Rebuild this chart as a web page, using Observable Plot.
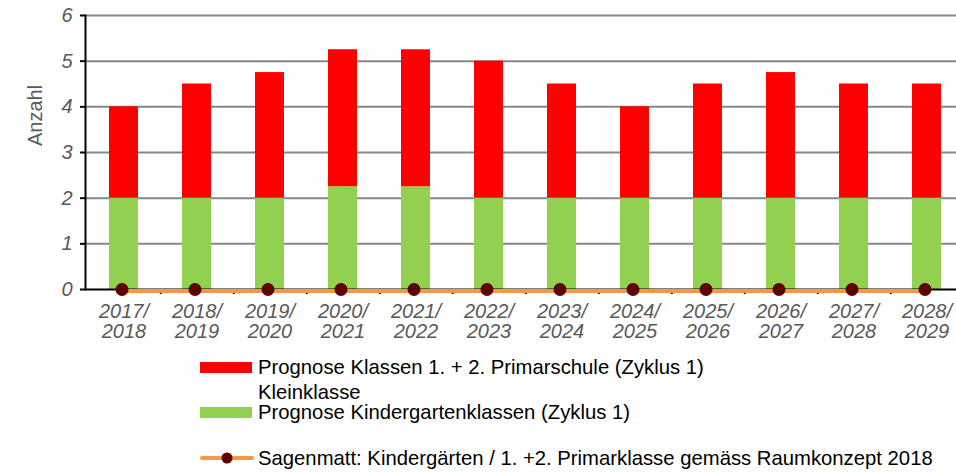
<!DOCTYPE html>
<html>
<head>
<meta charset="utf-8">
<script src="https://cdn.jsdelivr.net/npm/d3@7"></script>
<script src="https://cdn.jsdelivr.net/npm/@observablehq/plot@0.6"></script>
<style>
  html, body { margin: 0; padding: 0; background: #fff; overflow: hidden; }
  #wrap { position: relative; width: 956px; height: 472px; overflow: hidden; font-family: "Liberation Sans", Arial, sans-serif; }
  #chart svg { overflow: hidden; }
  .leg { position: absolute; left: 200px; font-size: 20.3px; color: #000; white-space: nowrap; }
  .leg .sw { position: absolute; left: 0; width: 52px; height: 11px; }
  .leg .tx { position: absolute; left: 58px; line-height: 25px; }
</style>
</head>
<body>
<div id="wrap">
  <div id="chart"></div>
  <div id="legend"></div>
</div>
<script>
const years = ["2017/2018","2018/2019","2019/2020","2020/2021","2021/2022","2022/2023","2023/2024","2024/2025","2025/2026","2026/2027","2027/2028","2028/2029"];
const kinder = [2, 2, 2, 2.25, 2.25, 2, 2, 2, 2, 2, 2, 2];
const primar = [2, 2.5, 2.75, 3, 3, 3, 2.5, 2, 2.5, 2.75, 2.5, 2.5];
const sagenmatt = [0, 0, 0, 0, 0, 0, 0, 0, 0, 0, 0, 0];
const yTicks = [0, 1, 2, 3, 4, 5, 6];
const yTitle = "Anzahl";
const legendItems = [
  "Prognose Klassen 1. + 2. Primarschule (Zyklus 1)\nKleinklasse",
  "Prognose Kindergartenklassen (Zyklus 1)",
  "Sagenmatt: Kindergärten / 1. +2. Primarklasse gemäss Raumkonzept 2018"
];

const RED = "#FF0000", GREEN = "#92D050", ORANGE = "#F79646", DOT = "#5C0000", GRAY = "#595959";

const rows = years.map((y, i) => ({year: y, k: kinder[i], p: primar[i], s: sagenmatt[i]}));
const step = (967 - 84) / 12;

const chart = Plot.plot({
  width: 956, height: 350,
  marginLeft: 85, marginRight: 0, marginTop: 15, marginBottom: 61,
  x: {domain: years, range: [84, 967], paddingInner: 0.6, paddingOuter: 0.3, axis: null},
  y: {domain: [0, 6], axis: null},
  style: {fontFamily: "'Liberation Sans', Arial, sans-serif", overflow: "hidden"},
  marks: [
    Plot.gridY(yTicks.filter(v => v > 0), {stroke: "#878787", strokeWidth: 2, strokeOpacity: 1}),
    Plot.barY(rows, {x: "year", y1: 0, y2: "k", fill: GREEN, inset: 0}),
    Plot.barY(rows, {x: "year", y1: "k", y2: d => d.k + d.p, fill: RED, inset: 0}),
    Plot.frame({anchor: "left", stroke: "black", strokeWidth: 2}),
    Plot.ruleY([0], {stroke: "black", strokeWidth: 2}),
    Plot.ruleX(years.slice(0, 11), {x: d => d, dx: step / 2, y1: 0, y2: -0.11, stroke: "black", strokeWidth: 2}),
    Plot.axisY(yTicks, {tickSize: 5, tickFormat: () => "", stroke: "black", strokeWidth: 2}),
    Plot.line(rows, {x: "year", y: "s", stroke: ORANGE, strokeWidth: 4, dy: 1.5}),
    Plot.dot(rows, {x: "year", y: "s", r: 6.5, fill: DOT, stroke: "none", dx: -2}),
    Plot.text(yTicks, {y: d => d, frameAnchor: "left", dx: -13, textAnchor: "end", text: d => String(d),
      fontSize: 20, fontStyle: "italic", fill: GRAY}),
    Plot.text(years, {x: d => d, y: 0, text: d => d.replace("/", "/\n"), lineAnchor: "top", dy: 14,
      lineHeight: 1.02, fontSize: 20, fontStyle: "italic", fill: GRAY}),
    Plot.text([yTitle], {frameAnchor: "top-left", dx: -58, dy: 100, rotate: -90, text: d => d,
      textAnchor: "middle", fontSize: 20, fill: GRAY})
  ]
});
document.getElementById("chart").appendChild(chart);

const leg = document.getElementById("legend");
const tops = [355, 400, 446];
legendItems.forEach((label, i) => {
  const item = document.createElement("div");
  item.className = "leg";
  item.style.top = tops[i] + "px";
  let sw;
  if (i < 2) {
    sw = `<div class="sw" style="top:7px;background:${i === 0 ? RED : GREEN}"></div>`;
  } else {
    sw = `<svg style="position:absolute;left:0;top:4px" width="54" height="16"><line x1="2" x2="52" y1="8" y2="8" stroke="${ORANGE}" stroke-width="4" stroke-linecap="round"/><circle cx="27" cy="8" r="5.5" fill="${DOT}"/></svg>`;
  }
  const lines = label.split("\n").map(s => `<div>${s}</div>`).join("");
  item.innerHTML = sw + `<div class="tx">${lines}</div>`;
  leg.appendChild(item);
});
</script>
</body>
</html>
